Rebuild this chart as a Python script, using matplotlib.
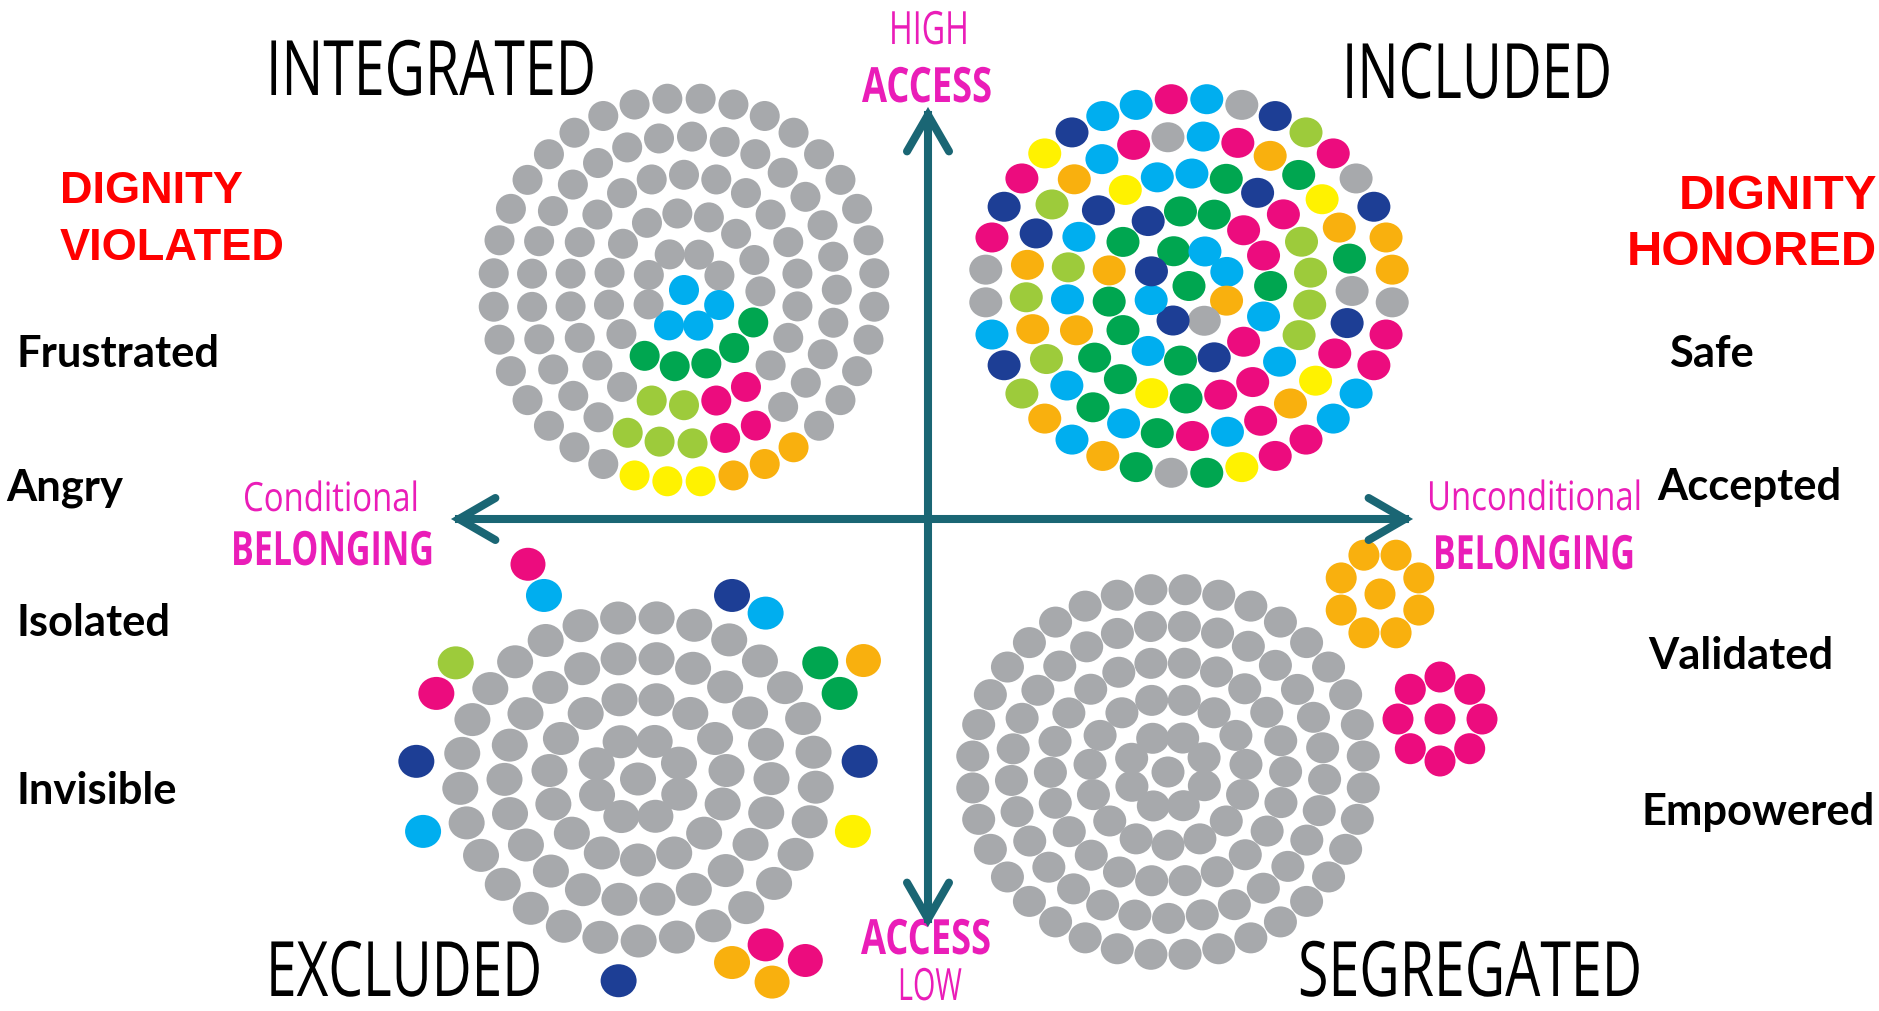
import numpy as np
import matplotlib
matplotlib.use('Agg')
import matplotlib.pyplot as plt
from matplotlib.patches import Ellipse
from matplotlib.patheffects import AbstractPathEffect
from matplotlib.transforms import Affine2D

# dot colours by letter ('.' = empty slot)
palette = {
    'g': '#A7A9AC',  # gray
    'C': '#00AEEF',  # cyan
    'P': '#EC0C7E',  # pink
    'G': '#00A650',  # green
    'L': '#9DCB3B',  # light green
    'N': '#1D3E95',  # navy
    'O': '#F9B00E',  # orange
    'Y': '#FFF200',  # yellow
}

# colours of each ring, centre first, read clockwise from the top
integrated_rings = [
    'C',
    'ggCCCggg',
    'ggggGGGGGgggggg',
    'gggggggggPPLLggggggggg',
    'ggggggggggggPPLLLgggggggggggg',
    'ggggggggggggggOOOYYYgggggggggggggggg',
]
included_rings = [
    'G',
    'GCCOgNCN',
    'GGPPGCPNGCGGOGN',
    'CCGNPLLLLCPPGYGGOCLCNY',
    'CPOGYOGgNPYOPCPGCGCLOLONLOCPg',
    'PCgNLPgNOOgPPCCPPYGgGOCOLNCggPNPYNCC',
]
excluded_rings = [
    'g',
    'gggggggg',
    'ggggggggggggggg',
    'gggggggggggggggggggggg',
    'ggggggggggggggggggggggggggggg',
    '..NC.GG.N.Y...PO..N......C.N.PL..C..',
]
excluded_outer_angles = [335, 60, 140, 149]
excluded_outer_colors = ['P', 'O', 'P', 'O']
segregated_rings = [
    'g',
    'gggggggg',
    'ggggggggggggggg',
    'gggggggggggggggggggggg',
    'ggggggggggggggggggggggggggggg',
    'gggggggggggggggggggggggggggggggggggg',
]
flower_colors = ['O', 'P']
flower_petals = 8

titles = ['INTEGRATED', 'INCLUDED', 'EXCLUDED', 'SEGREGATED']
left_words = ['Frustrated', 'Angry', 'Isolated', 'Invisible']
right_words = ['Safe', 'Accepted', 'Validated', 'Empowered']

teal = '#1A6674'
magenta = '#EA1DB8'
red = '#FF0000'

fig = plt.figure(figsize=(18.79, 10.12), dpi=100)
ax = fig.add_axes([0, 0, 1, 1])
ax.set_xlim(0, 1879)
ax.set_ylim(1012, 0)
ax.axis('off')


def draw_disc(rings, start, center, step, dot):
    cx, cy = center
    for k, (codes, a0) in enumerate(zip(rings, start)):
        n = len(codes)
        ang = np.radians(a0 + 360 * np.arange(n) / n)
        xs = cx + k * step[0] * np.sin(ang)
        ys = cy - k * step[1] * np.cos(ang)
        for x, y, c in zip(xs, ys, codes):
            if c in palette:
                ax.add_patch(Ellipse((x, y), dot[0], dot[1], color=palette[c], lw=0))


draw_disc(integrated_rings, [0, 23, 19, 0, 3, 5], (684, 291), (38.2, 38.4), (30, 30))
draw_disc(included_rings, [0, -22, -6, -15, 5, -5], (1189, 287), (40.8, 37.5), (33, 30))
draw_disc(excluded_rings, [0, 22, 12, 8, 6, 5], (638, 780), (44.5, 40.5), (36, 33))
draw_disc(segregated_rings, [0, 22, 12, 8, 6, 5], (1168, 773), (39.2, 36.6), (33, 31))

# the few dots pushed further out around EXCLUDED
for a, c in zip(excluded_outer_angles, excluded_outer_colors):
    t = np.radians(a)
    ax.add_patch(Ellipse((638 + 5.85 * 44.5 * np.sin(t), 780 - 5.85 * 40.5 * np.cos(t)),
                         35, 33, color=palette[c], lw=0))

# two small flowers next to SEGREGATED
for c, (fx, fy), a0 in zip(flower_colors, [(1380, 595), (1440, 720)], [22.5, 0]):
    draw_disc([c, c * flower_petals], [0, a0], (fx, fy), (42, 42), (31, 31))


# double-headed arrows
def arrow(p0, p1):
    p0, p1 = np.array(p0, float), np.array(p1, float)
    ax.plot([p0[0], p1[0]], [p0[1], p1[1]], color=teal, lw=5.8, zorder=5)
    for tip, other in ((p0, p1), (p1, p0)):
        d = (other - tip) / np.hypot(*(other - tip))
        arms = []
        for s in (1, -1):
            a = np.radians(30 * s)
            r = np.array([d[0] * np.cos(a) - d[1] * np.sin(a),
                          d[0] * np.sin(a) + d[1] * np.cos(a)])
            arms.append(tip + 42 * r)
        ax.plot([arms[0][0], tip[0], arms[1][0]], [arms[0][1], tip[1], arms[1][1]],
                color=teal, lw=5.8, solid_joinstyle='miter', solid_capstyle='round', zorder=5)


arrow((928, 116), (928, 920))
arrow((459, 520), (1405, 520))


# narrow lettering: squeeze the glyph outlines horizontally about the anchor
class Squeeze(AbstractPathEffect):
    def __init__(self, sx, pivot):
        super().__init__()
        self.sx = sx
        self.pivot = pivot

    def draw_path(self, renderer, gc, tpath, affine, rgbFace=None):
        squeeze = Affine2D().translate(-self.pivot, 0).scale(self.sx, 1).translate(self.pivot, 0)
        renderer.draw_path(gc, tpath, affine + squeeze, rgbFace)


rend = fig.canvas.get_renderer()


def put(x, y, s, size, width, ha='left', **kw):
    t = ax.text(x, y, s, fontsize=size, va='baseline', ha=ha, **kw)
    w = t.get_window_extent(rend).width
    pivot = ax.transData.transform((x, y))[0]
    t.set_path_effects([Squeeze(width / w, pivot)])
    return t


cond = dict(family='Open Sans')
put(266, 96, titles[0], 55, 330, color='black', **cond)
put(1342, 99, titles[1], 55, 270, color='black', **cond)
put(266, 997, titles[2], 55, 276, color='black', **cond)
put(1298, 997, titles[3], 55, 344, color='black', **cond)

put(929, 45, 'HIGH', 33, 80, ha='center', color=magenta, **cond)
put(927, 103, 'ACCESS', 35, 130, ha='center', color=magenta, weight='bold', **cond)
put(926, 955, 'ACCESS', 35, 130, ha='center', color=magenta, weight='bold', **cond)
put(930, 1001, 'LOW', 32, 64, ha='center', color=magenta, **cond)

put(243, 512, 'Conditional', 29, 176, color=magenta, **cond)
put(231, 566, 'BELONGING', 34, 203, color=magenta, weight='bold', **cond)
put(1642, 511, 'Unconditional', 29, 215, ha='right', color=magenta, **cond)
put(1635, 570, 'BELONGING', 34, 202, ha='right', color=magenta, weight='bold', **cond)

dig_l = dict(family='Liberation Sans', weight='bold', color=red, fontsize=32.5, va='baseline')
dig_r = dict(dig_l, fontsize=35.3)
ax.text(60, 203, 'DIGNITY', ha='left', **dig_l)
ax.text(60, 260, 'VIOLATED', ha='left', **dig_l)
ax.text(1877, 209, 'DIGNITY', ha='right', **dig_r)
ax.text(1877, 265, 'HONORED', ha='right', **dig_r)

word = dict(family='Lato', weight='bold', color='black', fontsize=31.3, va='baseline')
for s, x, y in zip(left_words, [17, 6, 17, 17], [367, 501, 636, 804]):
    ax.text(x, y, s, ha='left', **word)
for s, x, y in zip(right_words, [1669, 1657, 1648, 1642], [367, 500, 669, 825]):
    ax.text(x, y, s, ha='left', **word)

fig.savefig('out.png', dpi=100)
